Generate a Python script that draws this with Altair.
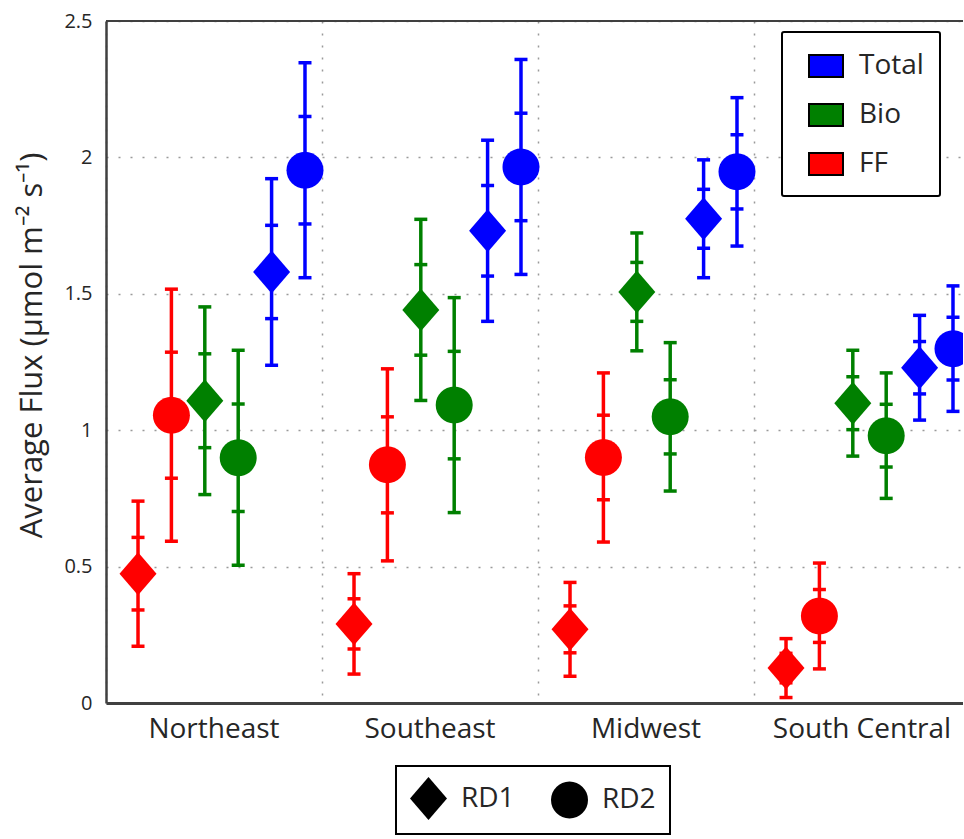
import altair as alt
import pandas as pd

regions = ["Northeast", "Southeast", "Midwest", "South Central"]
components = ["Total", "Bio", "FF"]
component_colors = ["#0000ff", "#008000", "#ff0000"]
runs = ["RD1", "RD2"]

# central estimates (µmol m-2 s-1)
ff_rd1 = [0.474, 0.290, 0.270, 0.128]
ff_rd2 = [1.055, 0.873, 0.900, 0.319]
bio_rd1 = [1.108, 1.441, 1.507, 1.099]
bio_rd2 = [0.899, 1.092, 1.049, 0.980]
total_rd1 = [1.580, 1.731, 1.775, 1.229]
total_rd2 = [1.953, 1.965, 1.947, 1.299]

# 1-sigma uncertainties (inner ticks); outer caps are 2-sigma
ff_rd1_sd = [0.133, 0.092, 0.086, 0.054]
ff_rd2_sd = [0.231, 0.176, 0.155, 0.097]
bio_rd1_sd = [0.172, 0.166, 0.108, 0.097]
bio_rd2_sd = [0.197, 0.197, 0.136, 0.115]
total_rd1_sd = [0.171, 0.166, 0.108, 0.096]
total_rd2_sd = [0.197, 0.197, 0.136, 0.115]

series = [
    ("FF", "RD1", ff_rd1, ff_rd1_sd),
    ("FF", "RD2", ff_rd2, ff_rd2_sd),
    ("Bio", "RD1", bio_rd1, bio_rd1_sd),
    ("Bio", "RD2", bio_rd2, bio_rd2_sd),
    ("Total", "RD1", total_rd1, total_rd1_sd),
    ("Total", "RD2", total_rd2, total_rd2_sd),
]
series_order = [f"{c} {r}" for c, r, _, _ in series]

rows = []
for comp, run, vals, sds in series:
    for reg, v, s in zip(regions, vals, sds):
        rows.append(dict(region=reg, component=comp, run=run, series=f"{comp} {run}",
                         flux=v, lo2=v - 2 * s, hi2=v + 2 * s, lo1=v - s, hi1=v + s))
df = pd.DataFrame(rows)

FONT = "Open Sans"
TXT = "#262626"
DIAMOND = "M0,-1.16L1,0L0,1.16L-1,0Z"
CIRCLE = "M1,0A1,1,0,1,1,-1,0A1,1,0,1,1,1,0Z"
RECT = "M-1,-0.65L1,-0.65L1,0.65L-1,0.65Z"

x_enc = alt.X(
    "region:N", sort=regions,
    scale=alt.Scale(range=[0, 864], paddingInner=0, paddingOuter=0),
    axis=alt.Axis(title=None, bandPosition=0, labelAngle=0,
                  grid=True, gridDash=[2, 10], gridColor="#9a9a9a", gridWidth=1.5,
                  ticks=False, tickSize=0, domainColor="#404040", domainWidth=3,
                  labelFont=FONT, labelFontSize=28, labelColor=TXT, labelPadding=12),
)
xo_enc = alt.XOffset("series:N", sort=series_order,
                     scale=alt.Scale(paddingInner=0, paddingOuter=0.234, align=0.98))
y_scale = alt.Scale(domain=[0, 2.5], nice=False, zero=True)
# marks use the reversed order so that this scale stays separate from the legend's one
color_scale = alt.Scale(domain=components[::-1], range=component_colors[::-1])
legend_scale = alt.Scale(domain=components, range=component_colors)
shape_scale = alt.Scale(domain=runs, range=[DIAMOND, CIRCLE])

base = alt.Chart(df)

bars = base.mark_rule(strokeWidth=3.5).encode(
    x=x_enc, xOffset=xo_enc,
    y=alt.Y("lo2:Q", scale=y_scale,
            axis=alt.Axis(title="Average Flux (µmol m⁻² s⁻¹)",
                          values=[0, 0.5, 1, 1.5, 2, 2.5], format="~g",
                          grid=True, gridDash=[2, 10], gridColor="#9a9a9a", gridWidth=1.5,
                          ticks=False, tickSize=0, domainColor="#404040", domainWidth=2.5,
                          labelFont=FONT, labelFontSize=20, labelColor=TXT, labelPadding=14,
                          titleFont=FONT, titleFontSize=31, titleFontWeight="normal",
                          titleColor=TXT, titleX=-58, titleY=324)),
    y2="hi2:Q",
    color=alt.Color("component:N", scale=color_scale, legend=None),
)

caps = base.transform_fold(["lo2", "hi2", "lo1", "hi1"], as_=["k", "v"]).mark_tick(
    orient="horizontal", size=13, thickness=3.5, opacity=1
).encode(
    x=x_enc, xOffset=xo_enc,
    y=alt.Y("v:Q", scale=y_scale),
    color=alt.Color("component:N", scale=color_scale, legend=None),
)

points = base.mark_point(filled=True, size=1369, opacity=1).encode(
    x=x_enc, xOffset=xo_enc,
    y=alt.Y("flux:Q", scale=y_scale),
    color=alt.Color("component:N", scale=color_scale, legend=None),
    shape=alt.Shape("run:N", scale=shape_scale,
                    legend=alt.Legend(title=None, orient="none", legendX=290, legendY=745,
                                      direction="horizontal", symbolSize=1369,
                                      symbolFillColor="black", symbolStrokeWidth=0,
                                      labelFont=FONT, labelFontSize=28, labelColor=TXT,
                                      labelOffset=14, columnPadding=36, padding=14,
                                      strokeColor="black", fillColor="white")),
)

# invisible carrier layer for the component legend (filled swatches with black outline)
swatch = base.mark_point(filled=True, opacity=0, stroke="black", strokeWidth=2).encode(
    x=x_enc, xOffset=xo_enc,
    y=alt.Y("flux:Q", scale=y_scale),
    fill=alt.Fill("component:N", scale=legend_scale,
                  legend=alt.Legend(title=None, orient="none", legendX=676, legendY=11,
                                    direction="vertical", symbolType=RECT, symbolSize=1156,
                                    symbolOpacity=1, symbolStrokeWidth=2, symbolOffset=10,
                                    labelFont=FONT, labelFontSize=28, labelColor=TXT,
                                    labelOffset=15, rowPadding=15, padding=16,
                                    strokeColor="black", fillColor="white", cornerRadius=2)),
)

top_border = alt.Chart(pd.DataFrame({"t": [2.5]})).mark_rule(
    color="#404040", strokeWidth=2
).encode(y=alt.Y("t:Q", scale=y_scale))

chart = alt.layer(bars, caps, points, swatch, top_border).properties(
    width=857, height=682,
    padding={"left": 106, "top": 21, "right": 0, "bottom": 135},
    autosize=alt.AutoSizeParams(type="none"),
).configure_view(stroke=None).configure_legend(strokeWidth=2)

chart.save("out.html", embed_options={"renderer": "svg", "actions": False})
